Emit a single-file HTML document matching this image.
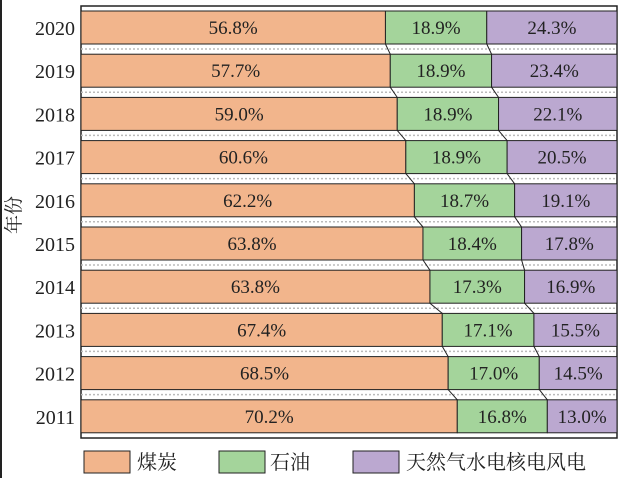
<!DOCTYPE html>
<html><head><meta charset="utf-8"><style>
html,body{margin:0;padding:0;background:#fff;width:623px;height:478px;overflow:hidden}
svg{display:block}
text{font-family:"Liberation Serif","Noto Serif CJK SC",serif;fill:#222}
</style></head><body>
<svg id="s" width="623" height="478" xmlns="http://www.w3.org/2000/svg">
<rect x="0" y="0" width="2" height="478" fill="#222"/>
</svg>
<script>
const d=[[2020,56.8,18.9,24.3],[2019,57.7,18.9,23.4],[2018,59.0,18.9,22.1],[2017,60.6,18.9,20.5],[2016,62.2,18.7,19.1],[2015,63.8,18.4,17.8],[2014,63.8,17.3,16.9],[2013,67.4,17.1,15.5],[2012,68.5,17.0,14.5],[2011,70.2,16.8,13.0]];
const L=81,R=617,W=R-L,cols=['#F2B58C','#A4D49B','#BBA8D0'];
let h='';
h+=`<rect x="${L}" y="6" width="${W}" height="432" fill="none" stroke="#222" stroke-width="1.5"/>`;
let prev=null;
d.forEach((r,i)=>{
 const y=11+43.2*i,H=33;
 const tot=r[1]+r[2]+r[3];
 let x=L;const b=[];
 for(let k=0;k<3;k++){const w=W*r[k+1]/tot;
  h+=`<rect x="${x}" y="${y}" width="${w}" height="${H}" fill="${cols[k]}" stroke="#222" stroke-width="1"/>`;
  h+=`<text x="${x+w/2}" y="${y+23}" font-size="19" text-anchor="middle">${r[k+1].toFixed(1)}%</text>`;
  x+=w;b.push(x);}
 h+=`<text x="75" y="${y+24}" font-size="20" text-anchor="end">${r[0]}</text>`;
 if(i<9){const gy=y+H+5;h+=`<line x1="${L}" x2="${R}" y1="${gy}" y2="${gy}" stroke="#bbb" stroke-width="1.5" stroke-dasharray="2,2"/>`;}
 if(prev){const py=y-43.2+H;[0,1].forEach(k=>{h+=`<line x1="${prev[k]}" y1="${py}" x2="${b[k]}" y2="${y}" stroke="#222" stroke-width="1"/>`;});}
 prev=b;
});
h+=`<text transform="translate(20,215) rotate(-90)" font-size="19" text-anchor="middle">年份</text>`;
const lg=[[84,137,'煤炭'],[219,270,'石油'],[353,406,'天然气水电核电风电']];
lg.forEach((g,k)=>{h+=`<rect x="${g[0]}" y="451" width="46" height="22" fill="${cols[k]}" stroke="#222" stroke-width="1"/><text x="${g[1]}" y="469" font-size="20">${g[2]}</text>`;});
document.getElementById('s').insertAdjacentHTML('beforeend',h);
</script>
</body></html>
